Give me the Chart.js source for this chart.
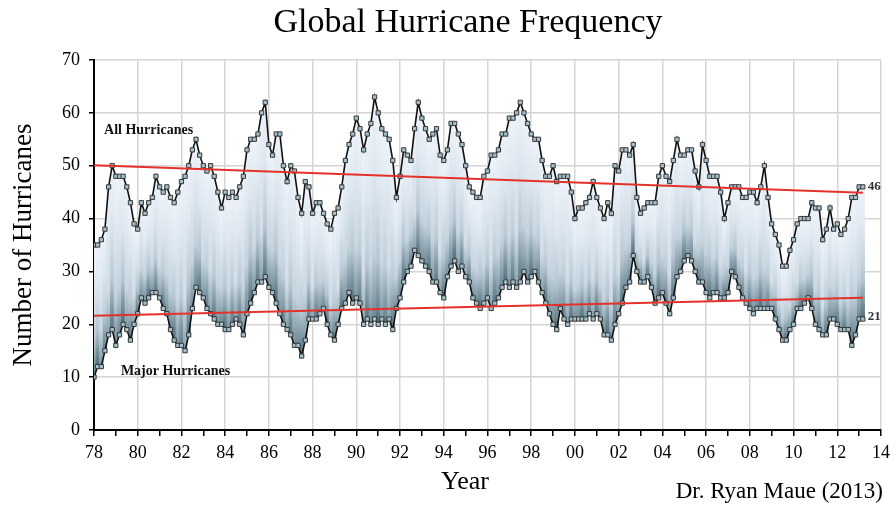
<!DOCTYPE html>
<html>
<head>
<meta charset="utf-8">
<script src="https://cdn.jsdelivr.net/npm/chart.js@4.4.0/dist/chart.umd.min.js"></script>
<style>
	html, body { margin: 0; padding: 0; background: #fff; }
	#wrap { width: 896px; height: 506px; }
</style>
</head>
<body>
<div id="wrap"><canvas id="hurricane-chart" width="896" height="506"></canvas></div>
<script>
// 두 달 간격 값 (1978년 1월 ~ 2013년 3월)
var startYear = 1978;
var perYear = 6;

var allHurricanes = [
	35, 35, 36, 38, 46, 50,   // 1978
	48, 48, 48, 46, 43, 39,   // 1979
	38, 43, 41, 43, 44, 48,   // 1980
	46, 45, 46, 44, 43, 45,   // 1981
	47, 48, 50, 53, 55, 52,   // 1982
	50, 49, 50, 48, 45, 42,   // 1983
	45, 44, 45, 44, 46, 48,   // 1984
	53, 55, 55, 56, 60, 62,   // 1985
	54, 52, 56, 56, 50, 47,   // 1986
	50, 49, 44, 41, 47, 46,   // 1987
	41, 43, 43, 41, 39, 38,   // 1988
	41, 42, 46, 51, 54, 56,   // 1989
	59, 57, 53, 56, 58, 63,   // 1990
	60, 57, 56, 55, 51, 44,   // 1991
	48, 53, 52, 51, 57, 62,   // 1992
	59, 57, 55, 56, 57, 52,   // 1993
	51, 53, 58, 58, 56, 54,   // 1994
	50, 46, 45, 44, 44, 48,   // 1995
	49, 52, 52, 53, 56, 56,   // 1996
	59, 59, 60, 62, 60, 58,   // 1997
	56, 55, 55, 51, 48, 48,   // 1998
	50, 47, 48, 48, 48, 45,   // 1999
	40, 42, 42, 43, 44, 47,   // 2000
	44, 42, 40, 43, 41, 50,   // 2001
	49, 53, 53, 52, 54, 44,   // 2002
	41, 42, 43, 43, 43, 48,   // 2003
	50, 48, 47, 51, 55, 52,   // 2004
	52, 53, 53, 49, 46, 54,   // 2005
	51, 48, 48, 48, 45, 40,   // 2006
	43, 46, 46, 46, 44, 44,   // 2007
	45, 45, 43, 46, 50, 44,   // 2008
	39, 37, 35, 31, 31, 34,   // 2009
	36, 39, 40, 40, 40, 43,   // 2010
	42, 42, 36, 38, 42, 38,   // 2011
	39, 37, 38, 40, 44, 44,   // 2012
	46, 46                    // 2013
];

var majorHurricanes = [
	10, 12, 12, 15, 18, 19,   // 1978
	16, 18, 20, 19, 17, 20,   // 1979
	22, 25, 24, 25, 26, 26,   // 1980
	25, 23, 22, 19, 17, 16,   // 1981
	16, 15, 18, 23, 27, 26,   // 1982
	25, 23, 22, 21, 20, 20,   // 1983
	19, 19, 20, 21, 20, 18,   // 1984
	22, 24, 26, 28, 28, 29,   // 1985
	27, 26, 24, 22, 20, 19,   // 1986
	18, 16, 16, 14, 17, 21,   // 1987
	21, 21, 22, 23, 20, 18,   // 1988
	17, 20, 23, 24, 26, 24,   // 1989
	25, 24, 20, 21, 20, 21,   // 1990
	20, 21, 20, 21, 19, 23,   // 1991
	25, 28, 30, 31, 34, 33,   // 1992
	32, 31, 30, 28, 28, 26,   // 1993
	25, 29, 31, 32, 30, 31,   // 1994
	29, 28, 25, 24, 23, 24,   // 1995
	25, 23, 24, 25, 27, 28,   // 1996
	27, 28, 27, 28, 30, 28,   // 1997
	29, 30, 28, 26, 24, 22,   // 1998
	20, 19, 23, 21, 20, 21,   // 1999
	21, 21, 21, 21, 22, 21,   // 2000
	22, 21, 18, 18, 17, 20,   // 2001
	22, 24, 27, 28, 33, 30,   // 2002
	28, 28, 29, 27, 24, 25,   // 2003
	26, 24, 22, 25, 29, 30,   // 2004
	32, 33, 32, 30, 28, 28,   // 2005
	26, 25, 26, 26, 25, 25,   // 2006
	26, 30, 29, 27, 25, 24,   // 2007
	23, 22, 23, 23, 23, 23,   // 2008
	23, 21, 19, 17, 17, 19,   // 2009
	20, 23, 23, 24, 25, 23,   // 2010
	20, 19, 18, 18, 21, 21,   // 2011
	20, 19, 19, 19, 16, 18,   // 2012
	21, 21                    // 2013
];

// 추세선 (시작, 끝)
var trendYears = [1978, 2013.17];
var trendAll = [50.1, 44.9];
var trendMajor = [21.6, 25.0];

// 축 눈금
var xTickYears = [1978, 1980, 1982, 1984, 1986, 1988, 1990, 1992, 1994, 1996, 1998,
	2000, 2002, 2004, 2006, 2008, 2010, 2012, 2014];
var yTicks = [0, 10, 20, 30, 40, 50, 60, 70];

var serif = "'Liberation Serif', 'Times New Roman', serif";

function yearOf(i) { return startYear + i / perYear; }

var allPoints = allHurricanes.map(function(v, i) { return {x: yearOf(i), y: v}; });
var majorPoints = majorHurricanes.map(function(v, i) { return {x: yearOf(i), y: v}; });
var bandPoints = allHurricanes.map(function(v, i) { return {x: yearOf(i), y: [majorHurricanes[i], v]}; });

// 세로 줄무늬 그라데이션 (줄마다 진하기 조금씩 다르게)
var stripeDark = ['#6a8693', '#4f6c79', '#7b95a1', '#5d7986', '#86a0ab', '#56727f', '#718c98'];
var stripeMid = ['#c3d2dc', '#b4c6d2', '#cbd8e1', '#bccdd8', '#d2dde5', '#b8c9d4', '#c6d4de'];
function stripeColor(ctx) {
	var chart = ctx.chart;
	if (!chart.chartArea || !ctx.raw) return '#c9d6e0';
	var ys = chart.scales.y;
	var top = ys.getPixelForValue(ctx.raw.y[1]);
	var bot = ys.getPixelForValue(ctx.raw.y[0]);
	if (bot - top < 1) bot = top + 1;
	var g = chart.ctx.createLinearGradient(0, top, 0, bot);
	var k = ctx.dataIndex % stripeDark.length;
	g.addColorStop(0, '#eef3f9');
	g.addColorStop(0.35, '#dde6ef');
	g.addColorStop(0.7, stripeMid[k]);
	g.addColorStop(1, stripeDark[k]);
	return g;
}

var textPlugin = {
	id: 'textPlugin',
	afterDraw: function(chart) {
		var c = chart.ctx;
		var xs = chart.scales.x, ys = chart.scales.y;
		c.save();
		c.fillStyle = '#000';
		c.textBaseline = 'middle';
		c.textAlign = 'center';
		c.font = '34px ' + serif;
		c.fillText('Global Hurricane Frequency', 468, 23);

		c.font = '26px ' + serif;
		c.fillText('Year', 465, 482);

		c.textAlign = 'right';
		c.font = '23px ' + serif;
		c.fillText('Dr. Ryan Maue (2013)', 883, 492);

		c.textAlign = 'left';
		c.font = 'bold 14px ' + serif;
		c.fillStyle = '#111';
		c.fillText('All Hurricanes', xs.getPixelForValue(1978.46), ys.getPixelForValue(56.7));
		c.fillText('Major Hurricanes', xs.getPixelForValue(1979.23), ys.getPixelForValue(11));

		c.font = 'bold 13px ' + serif;
		c.fillStyle = '#333';
		var last = allHurricanes.length - 1;
		c.fillText(String(allHurricanes[last]), xs.getPixelForValue(yearOf(last)) + 5, ys.getPixelForValue(allHurricanes[last]));
		c.fillText(String(majorHurricanes[last]), xs.getPixelForValue(yearOf(last)) + 5, ys.getPixelForValue(majorHurricanes[last]) - 2);
		c.restore();
	}
};

var seriesStyle = {
	type: 'line',
	borderColor: '#111',
	borderWidth: 1.6,
	pointStyle: 'rect',
	pointRadius: 3,
	pointBackgroundColor: '#a3bfcc',
	pointBorderColor: '#383838',
	pointBorderWidth: 1,
	tension: 0,
	order: 2
};

new Chart(document.getElementById('hurricane-chart'), {
	data: {
		datasets: [
			Object.assign({}, seriesStyle, { label: 'All Hurricanes', data: allPoints }),
			Object.assign({}, seriesStyle, { label: 'Major Hurricanes', data: majorPoints }),
		{
			type: 'line',
			label: 'Trend all',
			data: trendYears.map(function(x, i) { return {x: x, y: trendAll[i]}; }),
			borderColor: '#e4322b',
			borderWidth: 2,
			pointRadius: 0,
			order: 1
		}, {
			type: 'line',
			label: 'Trend major',
			data: trendYears.map(function(x, i) { return {x: x, y: trendMajor[i]}; }),
			borderColor: '#e4322b',
			borderWidth: 2,
			pointRadius: 0,
			order: 1
		}, {
			type: 'bar',
			label: 'band',
			data: bandPoints,
			backgroundColor: stripeColor,
			borderWidth: 0,
			barPercentage: 1,
			categoryPercentage: 1,
			order: 3
		}]
	},
	options: {
		responsive: false,
		animation: false,
		layout: {
			padding: {left: 8, right: 13, top: 60, bottom: 0}
		},
		plugins: {
			legend: { display: false },
			tooltip: { enabled: false }
		},
		scales: {
			x: {
				type: 'linear',
				min: 1978,
				max: 2014,
				offset: false,
				afterFit: function(scale) { scale.height = 76; },
				afterBuildTicks: function(scale) {
					var t = [];
					for (var y = 1978; y <= 2014; y++) t.push({value: y});
					scale.ticks = t;
				},
				ticks: {
					autoSkip: false,
					maxRotation: 0,
					padding: 6,
					color: '#000',
					font: { family: serif, size: 18 },
					callback: function(v) {
						if (xTickYears.indexOf(v) < 0) return '';
						var s = String(v % 100);
						return s.length < 2 ? '0' + s : s;
					}
				},
				grid: {
					offset: false,
					color: function(ctx) {
						return ctx.tick && xTickYears.indexOf(ctx.tick.value) >= 0 ? '#d5d5d5' : 'rgba(0,0,0,0)';
					},
					lineWidth: 1.5,
					tickColor: '#000',
					tickLength: 6
				},
				border: { color: '#000', width: 2 }
			},
			y: {
				min: 0,
				max: 70,
				afterFit: function(scale) { scale.width = 86; },
				afterBuildTicks: function(scale) {
					scale.ticks = yTicks.map(function(v) { return {value: v}; });
				},
				ticks: {
					padding: 9,
					color: '#000',
					font: { family: serif, size: 18 }
				},
				grid: {
					color: '#d5d5d5',
					lineWidth: 1.5,
					tickColor: '#000',
					tickLength: 5
				},
				border: { color: '#000', width: 2 },
				title: {
					display: true,
					text: 'Number of Hurricanes',
					color: '#000',
					font: { family: serif, size: 27 },
					padding: { top: 0, bottom: 0 }
				}
			}
		}
	},
	plugins: [textPlugin]
});
</script>
</body>
</html>
